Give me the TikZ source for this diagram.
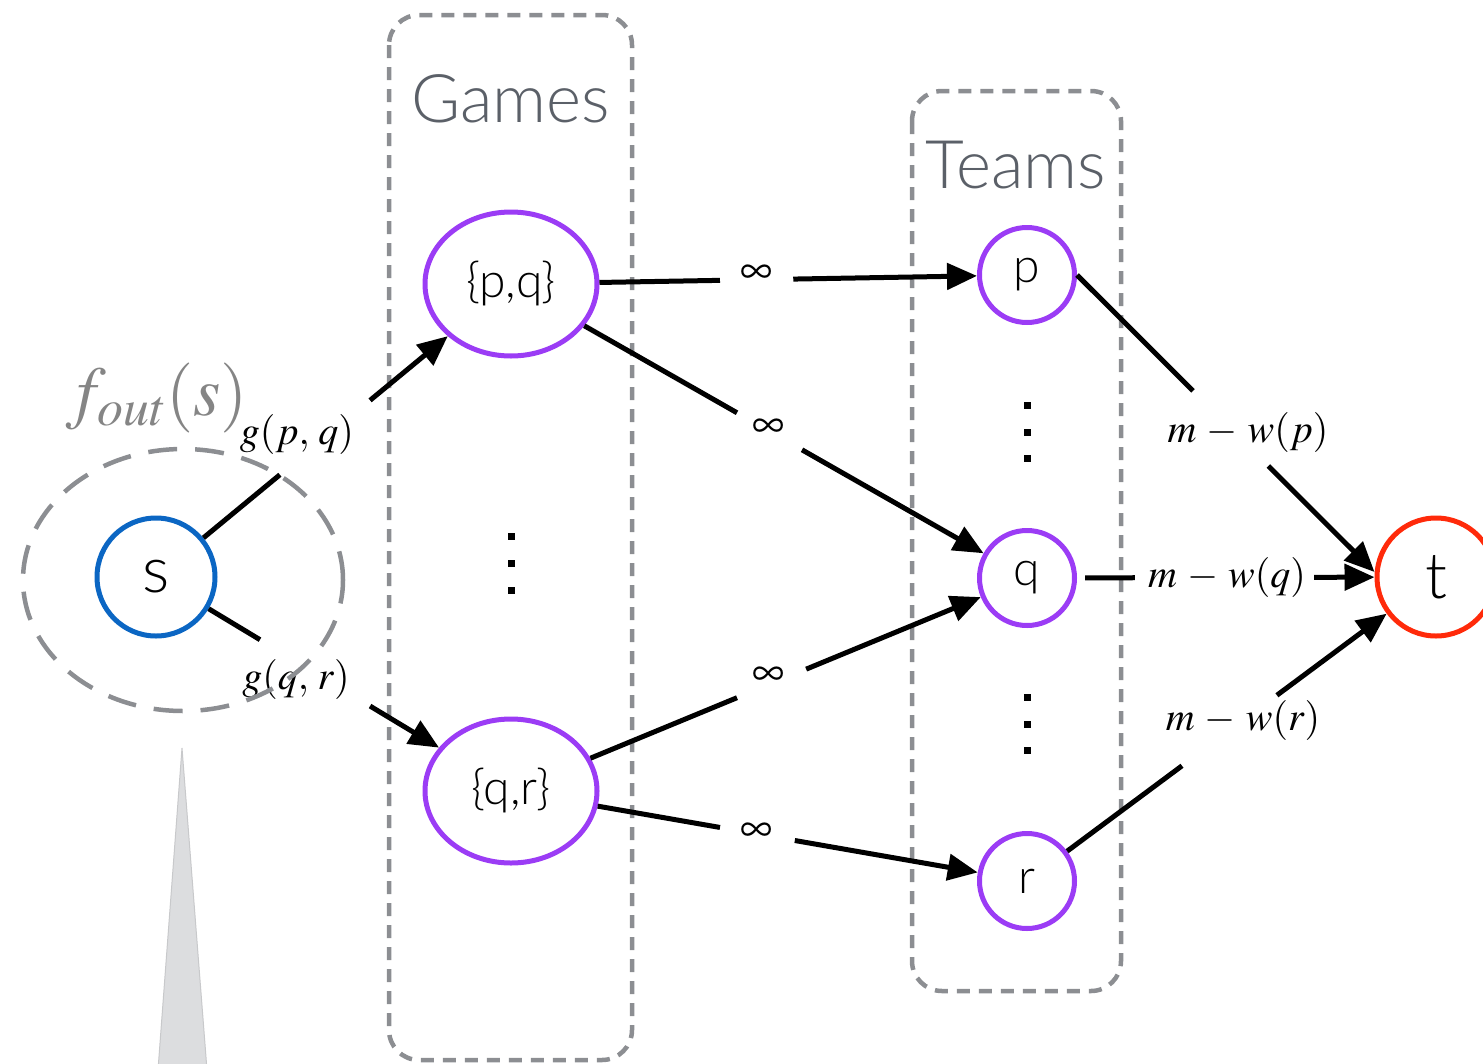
\documentclass[tikz,border=0pt]{standalone}
\usepackage{mathptmx}
\usepackage[no-math]{fontspec}
\setmainfont{Lato Light}
\usetikzlibrary{arrows.meta,calc,shapes.geometric}

\definecolor{gamepurple}{HTML}{9B3CF5}
\definecolor{srcblue}{HTML}{0B66C3}
\definecolor{sinkred}{HTML}{FF2A0A}
\definecolor{boxgray}{HTML}{8C8E92}
\definecolor{titlegray}{HTML}{5B6068}
\definecolor{cutgray}{HTML}{858585}
\definecolor{conefill}{HTML}{DCDDDF}
\definecolor{coneedge}{HTML}{C8C9CB}

\tikzset{
  edge/.style={line width=5pt, draw=black},
  arr/.style={edge, -{Triangle[length=30pt,width=26pt]}},
  groupbox/.style={draw=boxgray, line width=4.5pt, dash pattern=on 13pt off 9pt, rounded corners=30pt},
  gamenode/.style={ellipse, draw=gamepurple, line width=5pt, minimum width=172pt,
    minimum height=144pt, inner sep=0pt, font=\fontsize{48}{50}\selectfont},
  teamnode/.style={circle, draw=gamepurple, line width=5pt, minimum size=95pt,
    inner sep=0pt, font=\fontsize{48}{50}\selectfont},
  endnode/.style={circle, line width=5pt, minimum size=118pt, inner sep=0pt,
    font=\fontsize{64}{66}\selectfont},
  grouptitle/.style={anchor=base, text=titlegray, font=\fontsize{67}{70}\selectfont},
  caplbl/.style={font=\fontsize{40}{42}\selectfont, inner sep=0pt},
  inflbl/.style={font=\fontsize{45}{47}\selectfont, inner sep=0pt},
  vdot/.style={rectangle, fill=black, minimum size=7pt, inner sep=0pt},
}

\begin{document}
\begin{tikzpicture}[x=1pt,y=-1pt]
\useasboundingbox (0,0) rectangle (1483,1063);

% group frames
\draw[groupbox] (389,15) rectangle (632,1060);
\draw[groupbox] (912,91) rectangle (1121,991);
\node[grouptitle] (gtitle) at (511,122) {Games};
\node[grouptitle] (ttitle) at (1016,188) {Teams};

% cone below the cut
\filldraw[fill=conefill, draw=coneedge, line width=1pt]
  (182,748) -- (207,1070) -- (158,1070) -- cycle;

% nodes
\node[endnode, draw=srcblue] (s) at (156,577) {s};
\node[endnode, draw=sinkred] (t) at (1436,577) {t};
\node[gamenode] (pq) at (511,284) {\{p,q\}};
\node[gamenode] (qr) at (511,791) {\{q,r\}};
\node[teamnode] (p) at (1027,275) {p};
\node[teamnode] (q) at (1027,578) {q};
\node[teamnode] (r) at (1027,881) {r};

% vertical ellipses
\foreach \i/\y in {1/536,2/563,3/590} \node[vdot] (gd\i) at (511,\y) {};
\foreach \i/\y in {1/405,2/432,3/458} \node[vdot] (ta\i) at (1027,\y) {};
\foreach \i/\y in {1/697,2/724,3/750} \node[vdot] (tb\i) at (1027,\y) {};

% edge labels
\node[caplbl] (lpq) at (297,434) {$g(p,\,q)$};
\node[caplbl] (lqr) at (296,679) {$g(q,\,r)$};
\node[caplbl] (lp) at (1248,432) {$m\,-\,w(p)$};
\node[caplbl] (lq) at (1227,577) {$m\,-\,w(q)$};
\node[caplbl] (lr) at (1243,720) {$m\,-\,w(r)$};
\node[inflbl] (i1) at (757,274) {$\infty$};
\node[inflbl] (i2) at (769,428) {$\infty$};
\node[inflbl] (i3) at (769,676) {$\infty$};
\node[inflbl] (i4) at (757,832) {$\infty$};

% source edges
\draw[edge] (s) -- ($(s)!0.349!(pq)$);
\draw[arr] ($(s)!0.603!(pq)$) -- (pq);
\draw[edge] (s) -- ($(s)!0.293!(qr)$);
\draw[arr] ($(s)!0.603!(qr)$) -- (qr);

% game-to-team edges
\draw[edge] (pq) -- ($(pq)!0.405!(p)$);
\draw[arr] ($(pq)!0.547!(p)$) -- (p);
\draw[edge] (pq) -- ($(pq)!0.438!(q)$);
\draw[arr] ($(pq)!0.564!(q)$) -- (q);
\draw[edge] (qr) -- ($(qr)!0.438!(q)$);
\draw[arr] ($(qr)!0.572!(q)$) -- (q);
\draw[edge] (qr) -- ($(qr)!0.405!(r)$);
\draw[arr] ($(qr)!0.550!(r)$) -- (r);

% team-to-sink edges
\coordinate (tin) at ($(t.west)+(0,-5)$);
\draw[edge] (p.east) -- ($(p.east)!0.39!(tin)$);
\draw[arr] ($(p.east)!0.643!(tin)$) -- (tin);
\draw[edge, shorten <=8pt] (q) -- ($(q)!0.264!(t)$);
\draw[arr] ($(q)!0.702!(t)$) -- (t);
\draw[edge] (r) -- ($(r)!0.379!(t)$);
\draw[arr] ($(r)!0.611!(t)$) -- (t);

% cut around the source
\node[ellipse, draw=boxgray, line width=4.5pt, dash pattern=on 29pt off 18pt,
  minimum width=320pt, minimum height=262pt, inner sep=0pt] (cut) at (183,580) {};
\node[anchor=base, text=cutgray, font=\fontsize{70}{72}\selectfont] (fout)
  at (157,415) {$f_{out}(s)$};
\end{tikzpicture}
\end{document}
